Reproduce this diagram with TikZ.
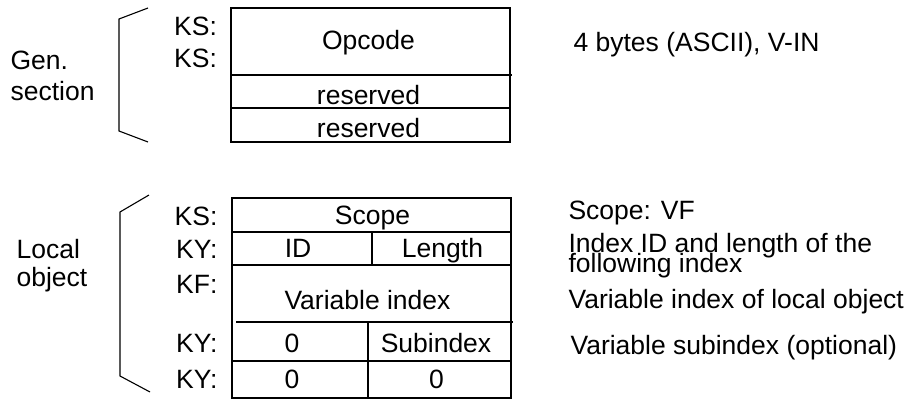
\documentclass[tikz,border=0pt]{standalone}
\usepackage{fontspec}
\setmainfont{Liberation Sans}
\begin{document}
\begin{tikzpicture}[x=1pt,y=-1pt,line width=1.1pt,
  txt/.style={inner sep=0pt,font=\fontsize{26.5}{30}\selectfont},
  lbl/.style={txt,anchor=base east},
  cell/.style={txt,anchor=base},
  desc/.style={txt,anchor=base west},
  side/.style={txt,anchor=base west}]
\useasboundingbox (0,0) rectangle (911,399);

% ---- general section ----
\draw (231,8) rectangle (510,142);
\draw (231,75) -- (512,75);
\draw (231,108) -- (510,108);
\draw (148,8) -- (119,19) -- (119,131) -- (148,142);

\node[side] (gen1) at (10,69) {Gen.};
\node[side] (gen2) at (10,100) {section};

\node[lbl] (ks1) at (217.5,35.5) {KS:};
\node[lbl] (ks2) at (217.5,67.5) {KS:};

\node[cell] (opcode) at (368.5,49) {Opcode};
\node[cell] (res1) at (368.5,104) {reserved};
\node[cell] (res2) at (368.5,137) {reserved};

\node[desc] (d0) at (573,51) {4 bytes (ASCII), V-IN};

% ---- local object ----
\draw (232,198) rectangle (511,398);
\draw (232,232) -- (511,232);
\draw (232,265) -- (511,265);
\draw (236,322) -- (513,322);
\draw (232,361) -- (511,361);
\draw (372,232) -- (372,265);
\draw (368,322) -- (368,398);
\draw (149,195) -- (120,212) -- (120,376) -- (150,392);

\node[side] (loc1) at (16,258) {Local};
\node[side] (loc2) at (16,286) {object};

\node[lbl] (k1) at (218,225) {KS:};
\node[lbl] (k2) at (218,258) {KY:};
\node[lbl] (k3) at (218,293) {KF:};
\node[lbl] (k4) at (218,352) {KY:};
\node[lbl] (k5) at (218,388) {KY:};

\node[cell] (scope) at (372.5,224.5) {Scope};
\node[cell] (id) at (298,257) {ID};
\node[cell] (len) at (442.5,257) {Length};
\node[cell] (varidx) at (367.5,309) {Variable index};
\node[cell] (z1) at (292,352.5) {0};
\node[cell] (sub) at (436,352.5) {Subindex};
\node[cell] (z2) at (292,388.5) {0};
\node[cell] (z3) at (436.5,388.5) {0};

\node[desc] (d1) at (568,219) {Scope: VF};
\node[desc] (d2a) at (568,252) {Index ID and length of the};
\node[desc] (d2b) at (568,272) {following index};
\node[desc] (d3) at (568,308) {Variable index of local object};
\node[desc] (d4) at (570,354) {Variable subindex (optional)};
\end{tikzpicture}
\end{document}
